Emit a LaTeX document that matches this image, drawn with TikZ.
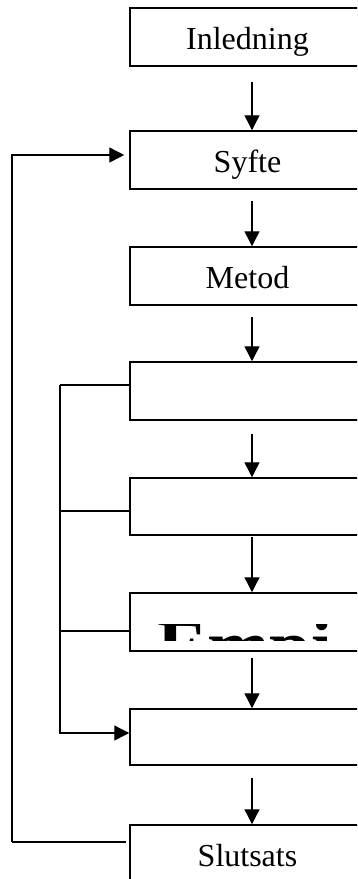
\documentclass[tikz,border=0pt]{standalone}
\usepackage{fontspec}
\setmainfont{Liberation Serif}
\usetikzlibrary{arrows.meta}

\tikzset{
  stage/.style={draw, line width=1.5pt, minimum width=244pt, minimum height=58pt,
    inner sep=0pt, text height=25pt, text depth=0pt,
    execute at end node={\hspace*{9pt}},
    font=\fontsize{32}{36}\selectfont},
  flow/.style={line width=1.4pt, -{Triangle[length=15pt,width=15pt]}},
  link/.style={line width=1.4pt},
}

\begin{document}
\begin{tikzpicture}[x=1pt, y=-1pt]
  \useasboundingbox (0,0) rectangle (357,879);
  \clip (0,0) rectangle (357,879);

  % main column of stages
  \node[stage] (inl)  at (252,37)    {Inledning};
  \node[stage] (syf)  at (252,160)   {Syfte};
  \node[stage] (met)  at (252,276)   {Metod};
  \node[stage] (s4)   at (252,391)   {};
  \node[stage, minimum height=57pt] (s5) at (252,506.5) {};
  \node[stage] (s6)   at (252,622)   {};
  \node[stage, minimum height=56pt] (s7) at (252,737) {};
  \node[stage, minimum height=64pt, text height=19pt] (slut) at (252,857) {Slutsats};

  % large bold heading, only its upper strip shows inside the box
  \begin{scope}
    \clip (132,624) rectangle (357,640);
    \node[anchor=base west, inner sep=0pt, font=\fontsize{75}{80}\selectfont\bfseries]
      (emp) at (157,671) {Empi};
  \end{scope}

  % downward arrows between stages
  \draw[flow] ([yshift=-15pt]inl.south) -- (syf.north);
  \draw[flow] ([yshift=-11pt]syf.south) -- (met.north);
  \draw[flow] ([yshift=-11pt]met.south) -- (s4.north);
  \draw[flow] ([yshift=-13pt]s4.south)  -- (s5.north);
  \draw[flow] ([yshift=-1pt]s5.south)   -- (s6.north);
  \draw[flow] ([yshift=-6pt]s6.south)   -- (s7.north);
  \draw[flow] ([yshift=-12pt]s7.south)  -- (slut.north);

  % rails on the left
  \coordinate (outer) at (12,0);
  \coordinate (inner) at (60,0);

  % outer feedback loop: Slutsats back to Syfte
  \draw[link] ([xshift=-3pt,yshift=15pt]slut.west) -- ([yshift=15pt]slut.west -| outer)
    coordinate (o1);
  \draw[flow] (o1) |- ([xshift=-5pt,yshift=5pt]syf.west);

  % inner loop through the middle stages
  \draw[link] ([xshift=2pt,yshift=6pt]s4.west) -- ([yshift=6pt]s4.west -| inner)
    coordinate (i1);
  \draw[flow] (i1) |- ([yshift=4pt]s7.west);
  \draw[link] ([xshift=2pt,yshift=-4.5pt]s5.west) -- ([yshift=-4.5pt]s5.west -| inner);
  \draw[link] ([xshift=2pt,yshift=-9pt]s6.west) -- ([yshift=-9pt]s6.west -| inner);
\end{tikzpicture}
\end{document}
